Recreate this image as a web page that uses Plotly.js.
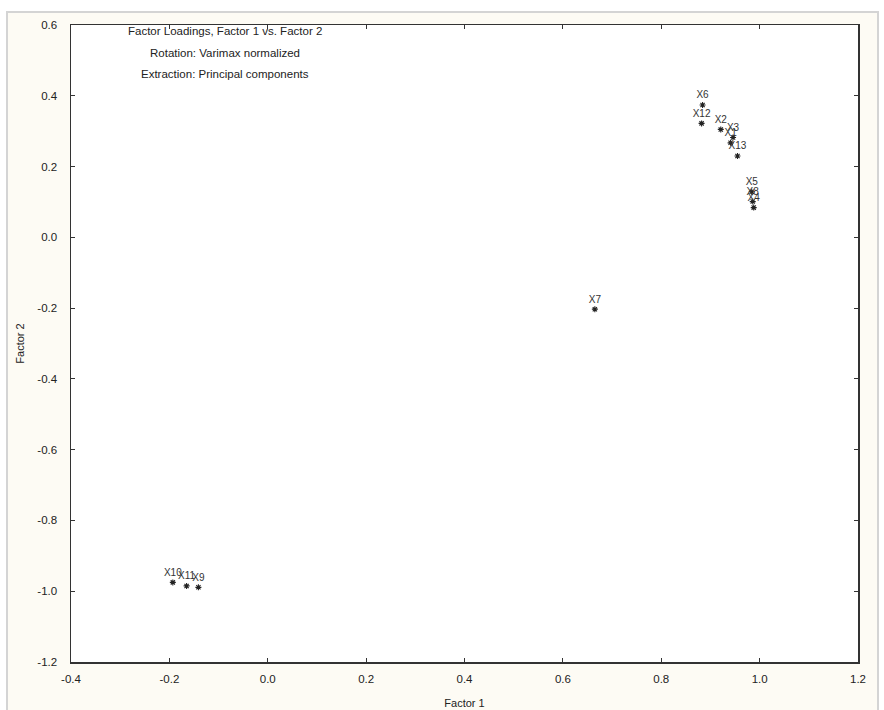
<!DOCTYPE html>
<html>
<head>
<meta charset="utf-8">
<script src="https://cdn.plot.ly/plotly-3.0.1.min.js"></script>
<style>html,body{margin:0;padding:0;background:#fff;}#chart{width:884px;height:710px;}</style>
</head>
<body>
<div id="chart"></div>
<script>
// Variable labels and their loadings
const varLabels = ["X1","X2","X3","X4","X5","X6","X7","X8","X9","X10","X11","X12","X13"];
const factor1 = [0.941, 0.921, 0.946, 0.988, 0.984, 0.884, 0.665, 0.986, -0.141, -0.193, -0.165, 0.882, 0.955];
const factor2 = [0.267, 0.305, 0.282, 0.084, 0.129, 0.374, -0.203, 0.101, -0.989, -0.975, -0.985, 0.322, 0.230];

const xTicks = [-0.4,-0.2,0.0,0.2,0.4,0.6,0.8,1.0,1.2];
const yTicks = [-1.2,-1.0,-0.8,-0.6,-0.4,-0.2,0.0,0.2,0.4,0.6];
const infoLines = ["Factor Loadings, Factor 1 vs. Factor 2","Rotation: Varimax normalized","Extraction: Principal components"];

const FONT = "Liberation Sans, Arial, sans-serif";

const trace = {
  x: factor1, y: factor2, text: varLabels,
  type: "scatter", mode: "markers+text",
  textposition: "top center",
  textfont: {family: FONT, size: 10, color: "#333"},
  marker: {symbol: "asterisk-open", size: 5, color: "#222", line: {color: "#222", width: 1.1}},
  cliponaxis: false, hoverinfo: "skip"
};

const axisCommon = {
  showgrid: false, zeroline: false, showline: true, mirror: "ticks",
  linecolor: "#333", linewidth: 1.5, ticks: "inside", ticklen: 4, tickcolor: "#333",
  tickfont: {family: FONT, size: 11.5, color: "#222"}
};

const layout = {
  width: 884, height: 710,
  margin: {l: 71, r: 26, t: 25, b: 48},
  paper_bgcolor: "#ffffff", plot_bgcolor: "#ffffff",
  showlegend: false,
  xaxis: Object.assign({}, axisCommon, {
    range: [-0.4, 1.2], tickvals: xTicks, ticktext: xTicks.map(v => v.toFixed(1)),
    ticklabelstandoff: 6,
    title: {text: "Factor 1", font: {family: FONT, size: 11, color: "#222"}, standoff: 15}
  }),
  yaxis: Object.assign({}, axisCommon, {
    range: [-1.2, 0.6], tickvals: yTicks, ticktext: yTicks.map(v => v.toFixed(1)),
    ticklabelstandoff: 10,
    title: {text: "Factor 2", font: {family: FONT, size: 11, color: "#222"}, standoff: 10}
  }),
  shapes: [
    {type: "rect", xref: "paper", yref: "paper", x0: -0.0813, x1: 1.0254, y0: -0.08, y1: 1.0204,
     fillcolor: "#fdfbf4", line: {color: "#d4d4d4", width: 2}, layer: "below"},
    {type: "rect", xref: "paper", yref: "paper", x0: 0, x1: 1, y0: 0, y1: 1,
     fillcolor: "#ffffff", line: {width: 0}, layer: "below"}
  ],
  annotations: infoLines.map((t, i) => ({
    text: t, xref: "paper", yref: "paper", x: 0.1957, y: [0.9906, 0.956, 0.923][i],
    xanchor: "center", yanchor: "middle", showarrow: false,
    font: {family: FONT, size: 11.5, color: "#222"}
  }))
};

Plotly.newPlot("chart", [trace], layout, {displayModeBar: false, staticPlot: true});
</script>
</body>
</html>
